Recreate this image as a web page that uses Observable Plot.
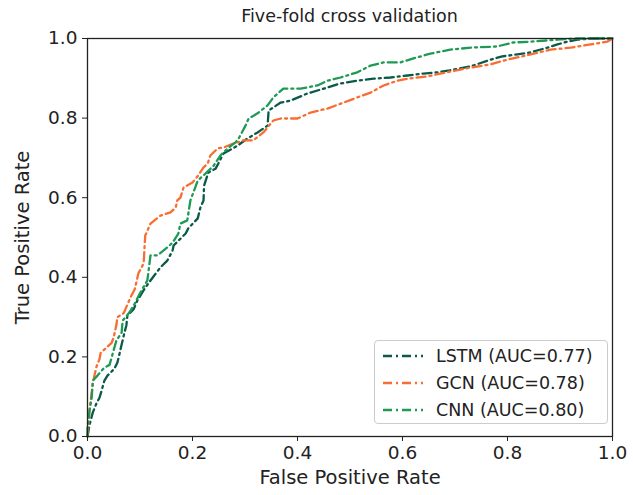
<!DOCTYPE html>
<html><head><meta charset="utf-8">
<script src="https://cdn.jsdelivr.net/npm/d3@7"></script>
<script src="https://cdn.jsdelivr.net/npm/@observablehq/plot@0.6"></script>
<style>
body{margin:0;background:#fff;font-family:"DejaVu Sans",sans-serif;}
#wrap{position:relative;width:633px;height:495px;}
#title{position:absolute;left:87px;width:525px;top:6px;text-align:center;font-size:17.5px;color:#222;z-index:2;}
#chart{position:absolute;left:0;top:20px;}
#legend{position:absolute;left:374px;top:340px;width:234px;height:84px;border:1px solid #ccc;border-radius:4px;background:#fff;font-size:17.5px;color:#222;box-sizing:border-box;}
.item{position:absolute;left:8px;height:20px;display:flex;align-items:center;}
.item svg{margin-right:13px;}
</style></head>
<body>
<div id="wrap">
<div id="chart"></div>
<div id="title">Five-fold cross validation</div>
<div id="legend"></div>
</div>
<script>
const seriesNames = ["LSTM (AUC=0.77)", "GCN (AUC=0.78)", "CNN (AUC=0.80)"];
const seriesColors = ["#0b5a47", "#f96d32", "#1e9a55"];

const lstmX = [0,0.004,0.01,0.017,0.023,0.027,0.032,0.038,0.051,0.057,0.061,0.07,0.074,0.076,0.088,0.095,0.11,0.12,0.139,0.152,0.162,0.164,0.187,0.192,0.21,0.215,0.221,0.222,0.23,0.244,0.259,0.286,0.305,0.324,0.343,0.345,0.368,0.387,0.419,0.45,0.482,0.514,0.545,0.577,0.61,0.64,0.667,0.69,0.73,0.768,0.79,0.819,0.844,0.876,0.895,0.914,0.933,0.96,1];
const lstmY = [0,0.03,0.06,0.083,0.098,0.116,0.14,0.153,0.17,0.186,0.208,0.259,0.279,0.304,0.32,0.342,0.374,0.392,0.425,0.442,0.467,0.48,0.51,0.523,0.548,0.575,0.593,0.63,0.663,0.673,0.711,0.731,0.749,0.764,0.781,0.819,0.839,0.844,0.862,0.874,0.887,0.894,0.899,0.902,0.907,0.912,0.915,0.92,0.93,0.947,0.955,0.96,0.965,0.977,0.985,0.992,0.997,1,1];

const gcnX = [0,0.004,0.011,0.017,0.023,0.025,0.046,0.05,0.055,0.057,0.069,0.082,0.09,0.097,0.107,0.109,0.11,0.12,0.139,0.158,0.168,0.171,0.177,0.183,0.2,0.211,0.221,0.229,0.234,0.248,0.259,0.278,0.297,0.316,0.335,0.354,0.368,0.4,0.425,0.457,0.488,0.514,0.539,0.564,0.59,0.615,0.648,0.691,0.73,0.768,0.8,0.844,0.882,0.92,0.958,0.99,1];
const gcnY = [0,0.07,0.14,0.175,0.195,0.21,0.235,0.25,0.28,0.3,0.31,0.35,0.37,0.41,0.435,0.485,0.505,0.535,0.555,0.563,0.575,0.593,0.6,0.626,0.638,0.656,0.676,0.686,0.706,0.724,0.726,0.736,0.744,0.744,0.764,0.794,0.799,0.799,0.814,0.824,0.839,0.852,0.864,0.882,0.894,0.9,0.905,0.917,0.927,0.935,0.947,0.96,0.972,0.977,0.985,0.992,1];

const cnnX = [0,0,0.004,0.008,0.01,0.019,0.032,0.042,0.048,0.055,0.065,0.067,0.08,0.09,0.1,0.114,0.12,0.133,0.152,0.162,0.173,0.177,0.19,0.196,0.21,0.225,0.24,0.253,0.269,0.282,0.288,0.301,0.307,0.324,0.343,0.354,0.373,0.406,0.438,0.457,0.482,0.514,0.539,0.564,0.596,0.621,0.653,0.691,0.73,0.78,0.811,0.844,0.895,0.93,1];
const cnnY = [0,0.023,0.065,0.098,0.14,0.153,0.173,0.18,0.208,0.241,0.261,0.291,0.312,0.334,0.36,0.392,0.455,0.455,0.475,0.487,0.51,0.535,0.543,0.593,0.643,0.661,0.68,0.706,0.726,0.739,0.749,0.781,0.799,0.812,0.832,0.852,0.874,0.874,0.882,0.894,0.902,0.915,0.932,0.94,0.94,0.95,0.962,0.972,0.977,0.98,0.99,0.992,0.997,1,1];

const tickValues = [0, 0.2, 0.4, 0.6, 0.8, 1.0];
const xLabel = "False Positive Rate";
const yLabel = "True Positive Rate";

const toRows = (xs, ys, s) => xs.map((x, i) => ({x, y: ys[i], s}));
const rows = [
  ...toRows(lstmX, lstmY, seriesNames[0]),
  ...toRows(gcnX, gcnY, seriesNames[1]),
  ...toRows(cnnX, cnnY, seriesNames[2])
];

const dash = "9,4,2,4";
const fmt = d3.format(".1f");
const chart = Plot.plot({
  width: 633, height: 475,
  marginLeft: 87, marginRight: 21, marginTop: 18, marginBottom: 59,
  style: {fontFamily: "DejaVu Sans, sans-serif", fontSize: "18px", color: "#222", background: "transparent"},
  x: {domain: [0, 1], label: null},
  y: {domain: [0, 1], label: null},
  color: {domain: seriesNames, range: seriesColors},
  marks: [
    Plot.line(rows, {x: "x", y: "y", z: "s", stroke: "s", strokeWidth: 2.3, strokeDasharray: dash}),
    Plot.frame({stroke: "#222", strokeWidth: 1.3}),
    Plot.axisX({ticks: tickValues, tickFormat: fmt, label: null, tickSize: 5, tickPadding: 4, fontSize: 18.5}),
    Plot.axisY({ticks: tickValues, tickFormat: fmt, label: null, tickSize: 5, tickPadding: 5, fontSize: 18.5}),
    Plot.text([xLabel], {text: d => d, frameAnchor: "bottom", textAnchor: "middle", dy: 47, fontSize: 19.5, fill: "#222"}),
    Plot.text([yLabel], {text: d => d, frameAnchor: "left", textAnchor: "middle", dx: -65, rotate: -90, fontSize: 19.5, fill: "#222"})
  ]
});
document.getElementById("chart").appendChild(chart);

const legend = document.getElementById("legend");
seriesNames.forEach((name, i) => {
  const d = document.createElement("div");
  d.className = "item";
  d.style.top = (5 + i * 27) + "px";
  d.innerHTML = `<svg width="40" height="6"><line x1="0" x2="40" y1="3" y2="3" stroke="${seriesColors[i]}" stroke-width="2.5" stroke-dasharray="${dash}"/></svg><span>${name}</span>`;
  legend.appendChild(d);
});
</script>
</body></html>
